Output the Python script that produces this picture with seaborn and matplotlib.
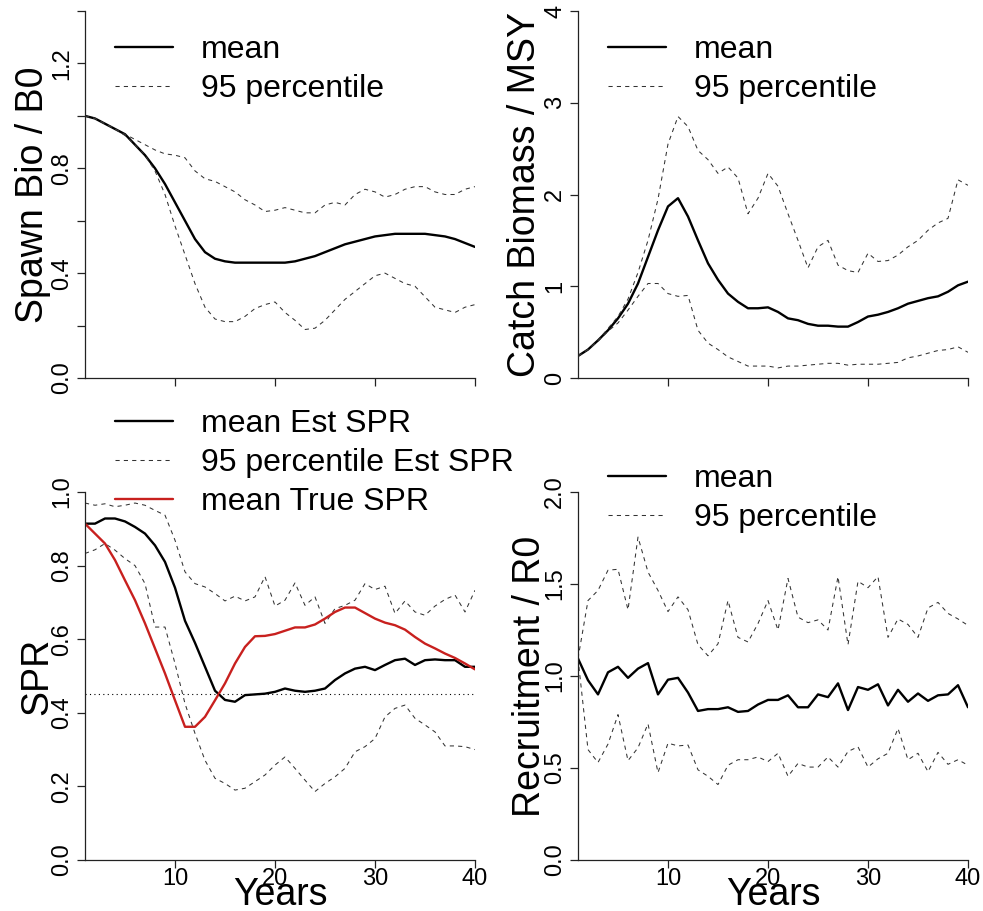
import numpy as np
import pandas as pd
import matplotlib
matplotlib.use("Agg")
import matplotlib.pyplot as plt
import seaborn as sns

sns.set_style("ticks")
plt.rcParams['font.family'] = ['Liberation Sans', 'DejaVu Sans']
plt.rcParams['text.color'] = 'black'
plt.rcParams['axes.labelcolor'] = 'black'
plt.rcParams['xtick.color'] = 'black'
plt.rcParams['ytick.color'] = 'black'

years = list(range(1, 41))

# Spawning biomass / B0
ssb_mean = [1.00, 0.99, 0.97, 0.95, 0.93, 0.89, 0.85, 0.80, 0.74, 0.67,
            0.60, 0.53, 0.48, 0.455, 0.445, 0.44, 0.44, 0.44, 0.44, 0.44,
            0.44, 0.445, 0.455, 0.465, 0.48, 0.495, 0.51, 0.52, 0.53, 0.54,
            0.545, 0.55, 0.55, 0.55, 0.55, 0.545, 0.54, 0.53, 0.515, 0.50]
ssb_hi = [1.00, 0.99, 0.97, 0.95, 0.93, 0.91, 0.89, 0.87, 0.855, 0.85,
          0.84, 0.79, 0.76, 0.75, 0.73, 0.71, 0.68, 0.66, 0.635, 0.64,
          0.65, 0.64, 0.63, 0.63, 0.66, 0.67, 0.66, 0.70, 0.72, 0.71,
          0.69, 0.70, 0.72, 0.73, 0.73, 0.71, 0.70, 0.70, 0.72, 0.73]
ssb_lo = [1.00, 0.99, 0.97, 0.95, 0.925, 0.89, 0.85, 0.79, 0.70, 0.58,
          0.47, 0.36, 0.27, 0.225, 0.215, 0.215, 0.235, 0.265, 0.28, 0.29,
          0.25, 0.22, 0.185, 0.19, 0.22, 0.26, 0.30, 0.33, 0.36, 0.39,
          0.40, 0.38, 0.36, 0.35, 0.31, 0.27, 0.26, 0.25, 0.27, 0.28]

# Catch biomass / MSY
catch_mean = [0.24, 0.31, 0.41, 0.52, 0.65, 0.81, 1.03, 1.32, 1.61, 1.87,
              1.96, 1.76, 1.50, 1.25, 1.07, 0.92, 0.83, 0.76, 0.76, 0.77,
              0.72, 0.65, 0.63, 0.59, 0.57, 0.57, 0.56, 0.56, 0.61, 0.67,
              0.69, 0.72, 0.76, 0.81, 0.84, 0.87, 0.89, 0.94, 1.01, 1.05]
catch_hi = [0.24, 0.31, 0.41, 0.54, 0.67, 0.86, 1.15, 1.50, 1.95, 2.55,
            2.85, 2.74, 2.48, 2.38, 2.23, 2.30, 2.18, 1.79, 1.96, 2.23,
            2.09, 1.79, 1.50, 1.20, 1.43, 1.50, 1.23, 1.17, 1.15, 1.36,
            1.27, 1.28, 1.34, 1.43, 1.50, 1.61, 1.69, 1.74, 2.16, 2.10]
catch_lo = [0.24, 0.31, 0.40, 0.51, 0.60, 0.74, 0.89, 1.03, 1.03, 0.92,
            0.89, 0.90, 0.52, 0.38, 0.31, 0.23, 0.18, 0.13, 0.13, 0.13,
            0.11, 0.13, 0.13, 0.14, 0.15, 0.16, 0.16, 0.14, 0.15, 0.15,
            0.15, 0.16, 0.17, 0.22, 0.24, 0.27, 0.30, 0.31, 0.34, 0.28]

# SPR
spr_est = [0.914, 0.914, 0.928, 0.928, 0.92, 0.905, 0.887, 0.855, 0.81, 0.74,
           0.65, 0.59, 0.525, 0.46, 0.435, 0.43, 0.448, 0.45, 0.452, 0.457,
           0.466, 0.46, 0.457, 0.46, 0.466, 0.489, 0.507, 0.52, 0.525, 0.516,
           0.53, 0.543, 0.547, 0.53, 0.543, 0.545, 0.543, 0.543, 0.525, 0.525]
spr_true = [0.914, 0.887, 0.86, 0.815, 0.76, 0.706, 0.643, 0.575, 0.507, 0.434,
            0.362, 0.362, 0.389, 0.434, 0.48, 0.534, 0.579, 0.608, 0.609, 0.614,
            0.623, 0.632, 0.632, 0.64, 0.656, 0.674, 0.686, 0.686, 0.671, 0.656,
            0.645, 0.638, 0.626, 0.606, 0.588, 0.575, 0.561, 0.549, 0.534, 0.518]
spr_hi = [0.97, 0.964, 0.968, 0.96, 0.964, 0.97, 0.964, 0.95, 0.937, 0.869,
          0.783, 0.751, 0.742, 0.724, 0.704, 0.717, 0.704, 0.715, 0.77, 0.69,
          0.706, 0.753, 0.692, 0.715, 0.643, 0.683, 0.692, 0.706, 0.751, 0.735,
          0.744, 0.67, 0.704, 0.674, 0.665, 0.69, 0.708, 0.72, 0.674, 0.733]
spr_lo = [0.833, 0.843, 0.86, 0.842, 0.819, 0.80, 0.751, 0.633, 0.633, 0.534,
          0.425, 0.344, 0.271, 0.222, 0.208, 0.19, 0.195, 0.213, 0.231, 0.258,
          0.28, 0.249, 0.217, 0.186, 0.208, 0.226, 0.249, 0.294, 0.308, 0.33,
          0.389, 0.412, 0.421, 0.385, 0.367, 0.348, 0.31, 0.31, 0.308, 0.30]
spr_target = 0.45

# Recruitment / R0
rec_mean = [1.095, 0.977, 0.90, 1.02, 1.05, 0.99, 1.04, 1.07, 0.90, 0.98,
            0.99, 0.91, 0.81, 0.82, 0.82, 0.83, 0.805, 0.81, 0.845, 0.87,
            0.87, 0.895, 0.83, 0.83, 0.90, 0.885, 0.96, 0.815, 0.94, 0.925,
            0.955, 0.84, 0.925, 0.86, 0.905, 0.865, 0.895, 0.90, 0.95, 0.83]
rec_hi = [1.095, 1.41, 1.465, 1.575, 1.58, 1.36, 1.755, 1.565, 1.465, 1.35,
          1.43, 1.36, 1.17, 1.11, 1.175, 1.41, 1.21, 1.185, 1.285, 1.41,
          1.25, 1.53, 1.32, 1.29, 1.305, 1.25, 1.54, 1.17, 1.515, 1.48,
          1.54, 1.21, 1.31, 1.28, 1.21, 1.37, 1.40, 1.34, 1.31, 1.275]
rec_lo = [1.095, 0.60, 0.53, 0.63, 0.79, 0.54, 0.61, 0.74, 0.475, 0.635,
          0.62, 0.625, 0.49, 0.455, 0.41, 0.515, 0.545, 0.545, 0.56, 0.535,
          0.58, 0.455, 0.525, 0.505, 0.505, 0.56, 0.505, 0.59, 0.615, 0.505,
          0.55, 0.58, 0.715, 0.545, 0.58, 0.48, 0.585, 0.52, 0.545, 0.515]

RED = '#C8201E'
DASH = (0, (4, 4))
LW_MEAN = 1.7
LW_DASH = 0.75

W, H = 983, 911
fig = plt.figure(figsize=(W / 100, H / 100), dpi=100)

def add_ax(x0, y_top, x1, y_bot):
    return fig.add_axes([x0 / W, 1 - y_bot / H, (x1 - x0) / W, (y_bot - y_top) / H])

ax_tl = add_ax(85, 11, 475, 378)
ax_tr = add_ax(578, 11, 968, 378)
ax_bl = add_ax(85, 492, 475, 860)
ax_br = add_ax(578, 492, 968, 860)

TICK_FS = 17
LAB_FS = 27
LEG_FS = 23


def style(ax, ylim, yticks, ylabels, xlabels, ylab, ylab_x):
    ax.set_xlim(1, 40)
    ax.set_ylim(*ylim)
    ax.set_xticks([10, 20, 30, 40])
    if xlabels:
        ax.set_xticklabels(['10', '20', '30', '40'], fontsize=TICK_FS)
        ax.set_xlabel('Years', fontsize=LAB_FS)
        ax.xaxis.set_label_coords(0.5, -0.047)
    else:
        ax.set_xticklabels([])
    ax.set_yticks(yticks)
    ax.set_yticklabels(ylabels, fontsize=TICK_FS, rotation=90, va='center')
    ax.set_ylabel(ylab, fontsize=LAB_FS)
    ax.yaxis.set_label_coords(ylab_x, 0.5)
    sns.despine(ax=ax)
    for s in ('left', 'bottom'):
        ax.spines[s].set_linewidth(0.9)
        ax.spines[s].set_color('#222222')
    ax.tick_params(axis='y', length=6, width=0.9, pad=2.5, colors='#222222', labelcolor='black')
    ax.tick_params(axis='x', length=6, width=0.9, pad=0, colors='#222222', labelcolor='black')


def legend(ax, y_anchor, handles_labels):
    leg = ax.legend(handles=[h for h, _ in handles_labels], labels=[l for _, l in handles_labels],
                    loc='upper left', bbox_to_anchor=(0.077, y_anchor), borderaxespad=0,
                    borderpad=0, frameon=False, fontsize=LEG_FS, handlelength=1.8,
                    handletextpad=0.9, labelspacing=0.28)
    for t in leg.get_texts():
        t.set_color('black')
    return leg


def plot_band(ax, mean, hi, lo):
    sns.lineplot(x=years, y=mean, ax=ax, color='black', linewidth=LW_MEAN, legend=False)
    sns.lineplot(x=years, y=hi, ax=ax, color='#333333', linewidth=LW_DASH, linestyle=DASH, legend=False)
    sns.lineplot(x=years, y=lo, ax=ax, color='#333333', linewidth=LW_DASH, linestyle=DASH, legend=False)
    lines = ax.get_lines()
    return lines[-3], lines[-2]

# Top-left
m, d = plot_band(ax_tl, ssb_mean, ssb_hi, ssb_lo)
style(ax_tl, (0, 1.4), [0, 0.2, 0.4, 0.6, 0.8, 1.0, 1.2, 1.4],
      ['0.0', '', '0.4', '', '0.8', '', '1.2', ''], False, 'Spawn Bio / B0', -0.087)
legend(ax_tl, 0.935, [(m, 'mean'), (d, '95 percentile')])

# Top-right
m, d = plot_band(ax_tr, catch_mean, catch_hi, catch_lo)
style(ax_tr, (0, 4), [0, 1, 2, 3, 4], ['0', '1', '2', '3', '4'], False,
      'Catch Biomass / MSY', -0.090)
legend(ax_tr, 0.935, [(m, 'mean'), (d, '95 percentile')])

# Bottom-left
m, d = plot_band(ax_bl, spr_est, spr_hi, spr_lo)
sns.lineplot(x=years, y=spr_true, ax=ax_bl, color=RED, linewidth=LW_MEAN, legend=False)
r = ax_bl.get_lines()[-1]
ax_bl.axhline(spr_target, color='black', linewidth=0.8, linestyle=(0, (1, 3)))
style(ax_bl, (0, 1.0), [0, 0.2, 0.4, 0.6, 0.8, 1.0],
      ['0.0', '0.2', '0.4', '0.6', '0.8', '1.0'], True, 'SPR', -0.077)
legend(ax_bl, 1.226, [(m, 'mean Est SPR'), (d, '95 percentile Est SPR'), (r, 'mean True SPR')])

# Bottom-right
m, d = plot_band(ax_br, rec_mean, rec_hi, rec_lo)
style(ax_br, (0, 2.0), [0, 0.5, 1.0, 1.5, 2.0],
      ['0.0', '0.5', '1.0', '1.5', '2.0'], True, 'Recruitment / R0', -0.077)
legend(ax_br, 1.075, [(m, 'mean'), (d, '95 percentile')])

fig.savefig('out.png', dpi=100)
